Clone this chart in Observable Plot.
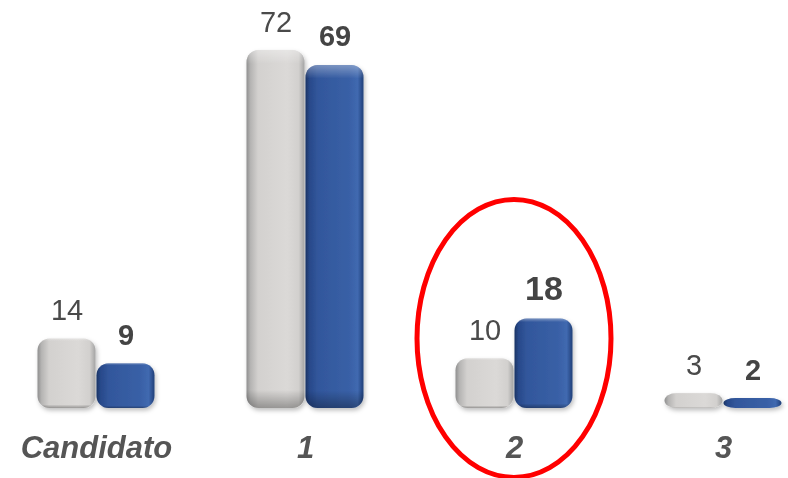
<!DOCTYPE html>
<html>
<head>
<meta charset="utf-8">
<script src="https://cdn.jsdelivr.net/npm/d3@7"></script>
<script src="https://cdn.jsdelivr.net/npm/@observablehq/plot@0.6"></script>
<style>
  html, body { margin: 0; padding: 0; background: #ffffff; }
  svg { display: block; }
</style>
</head>
<body>
<div id="chart"></div>
<script>
const groups = ["Candidato", "1", "2", "3"];
const seriesNames = ["Serie 1", "Serie 2"];
const greyValues = [14, 72, 10, 3];
const blueValues = [9, 69, 18, 2];
const highlighted = "2";

const data = groups.flatMap((g, i) => [
  {group: g, series: seriesNames[0], value: greyValues[i]},
  {group: g, series: seriesNames[1], value: blueValues[i]}
]);

const font = "'Liberation Sans', Arial, Helvetica, sans-serif";

const chart = Plot.plot({
  width: 788,
  height: 478,
  marginLeft: 35,
  marginRight: 5,
  marginTop: 50,
  marginBottom: 70,
  style: {background: "#ffffff", fontFamily: font},
  fx: {domain: groups, paddingInner: 0.437, paddingOuter: 0, label: null, axis: null},
  x: {domain: seriesNames, padding: 0, axis: null},
  y: {domain: [0, 72], axis: null},
  color: {domain: seriesNames, range: ["url(#gradGrey)", "url(#gradBlue)"]},
  marks: [
    Plot.barY(data, {fx: "group", x: "series", y: "value", fill: "series", rx: 12, insetLeft: 0.5, insetRight: 0.5}),
    Plot.barY(data, {fx: "group", x: "series", y: "value", fill: "url(#gradShade)", rx: 12, insetLeft: 0.5, insetRight: 0.5}),
    Plot.text(data.filter(d => d.series === seriesNames[0]), {
      fx: "group", x: "series", y: "value", text: d => String(d.value),
      lineAnchor: "bottom", dy: -19, fontSize: 29, fill: "#4a4a4a"
    }),
    Plot.text(data.filter(d => d.series === seriesNames[1]), {
      fx: "group", x: "series", y: "value", text: d => String(d.value),
      lineAnchor: "bottom", dy: -19, fontWeight: "bold",
      fontSize: d => d.group === highlighted ? 34 : 29, fill: "#444444"
    }),
    Plot.axisFx({anchor: "bottom", tickSize: 0, tickPadding: 27, fontSize: 31, fontWeight: "bold", fontStyle: "italic", fill: "#555555", label: null})
  ]
});

document.getElementById("chart").appendChild(chart);

// gradients & shadow
const svg = d3.select(chart);
const defs = svg.insert("defs", ":first-child");
function grad(id, stops, vertical) {
  const g = defs.append("linearGradient").attr("id", id)
    .attr("x1", 0).attr("y1", 0).attr("x2", vertical ? 0 : 1).attr("y2", vertical ? 1 : 0);
  stops.forEach(([o, c, op]) => g.append("stop").attr("offset", o).attr("stop-color", c).attr("stop-opacity", op ?? 1));
}
grad("gradGrey", [[0, "#8f8f8f"], [0.07, "#b5b4b3"], [0.2, "#d3d1cf"], [0.7, "#dbd9d7"], [0.9, "#d2d0ce"], [1, "#a3a3a3"]]);
grad("gradBlue", [[0, "#1b3464"], [0.07, "#28498a"], [0.22, "#32579c"], [0.75, "#3960a6"], [0.9, "#4069b0"], [1, "#203f78"]]);
grad("gradShade", [[0, "#ffffff", 0.35], [0.04, "#ffffff", 0], [0.95, "#000000", 0], [1, "#000000", 0.3]], true);
const f = defs.append("filter").attr("id", "shadow").attr("x", "-20%").attr("y", "-20%").attr("width", "140%").attr("height", "140%");
f.append("feDropShadow").attr("dx", 1.5).attr("dy", 2.5).attr("stdDeviation", 2).attr("flood-color", "#000").attr("flood-opacity", 0.25);
svg.selectAll("g[aria-label='bar']").filter((d, i) => i === 0).attr("filter", "url(#shadow)");

// red ellipse annotation around the highlighted group
const fx = chart.scale("fx");
const y = chart.scale("y");
const cx = fx.apply(highlighted) + fx.bandwidth / 2;
const cy = y.apply(14);
svg.append("ellipse")
  .attr("cx", cx).attr("cy", cy).attr("rx", 97).attr("ry", 139)
  .attr("fill", "none").attr("stroke", "#ff0000").attr("stroke-width", 5);
</script>
</body>
</html>
